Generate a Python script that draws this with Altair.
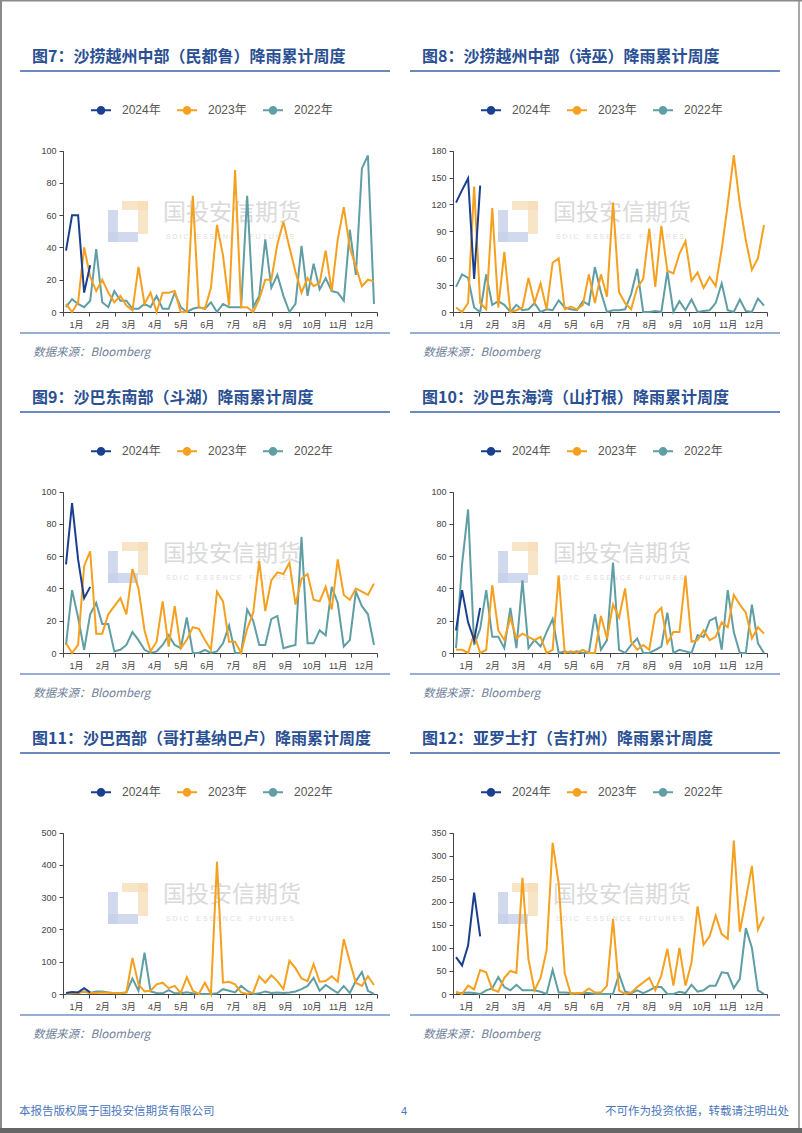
import altair as alt
import pandas as pd

W, H = 802, 1133
SERIES = ["2024年", "2023年", "2022年"]
COLORS = ["#1B3F8F", "#F5A01E", "#5E9EA4"]
MONTH_TICKS = list(range(13))

TITLES = [
    "图7：沙捞越州中部（民都鲁）降雨累计周度",
    "图8：沙捞越州中部（诗巫）降雨累计周度",
    "图9：沙巴东南部（斗湖）降雨累计周度",
    "图10：沙巴东海湾（山打根）降雨累计周度",
    "图11：沙巴西部（哥打基纳巴卢）降雨累计周度",
    "图12：亚罗士打（吉打州）降雨累计周度",
]
SOURCE = "数据来源：Bloomberg"
FOOT_L = "本报告版权属于国投安信期货有限公司"
FOOT_C = "4"
FOOT_R = "不可作为投资依据，转载请注明出处"
WM_CN = "国投安信期货"
NB = "\u00a0"
WM_EN = (NB * 2 + NB * 2).join(NB.join(w) for w in ["SDIC", "ESSENCE", "FUTURES"])

# ---- weekly rainfall values ----
c7_24 = [38, 60, 60, 12, 29]
c7_23 = [5, 0, 6, 40, 22, 13, 20, 12, 6, 10, 4, 1, 28, 5, 12, 0, 12, 12, 13, 0,
         0, 72, 3, 2, 15, 54, 35, 4, 88, 3, 3, 0, 8, 20, 20, 42, 56, 40, 25, 12,
         21, 16, 18, 38, 13, 45, 65, 40, 28, 16, 20, 19]
c7_22 = [3, 8, 5, 3, 7, 39, 6, 3, 13, 7, 7, 2, 2, 5, 3, 10, 2, 2, 12, 3,
         0, 2, 3, 2, 6, 0, 5, 3, 3, 3, 72, 3, 10, 45, 15, 23, 10, 0, 5, 41,
         10, 30, 14, 21, 13, 12, 7, 51, 23, 89, 97, 5]

c8_24 = [122, 136, 149, 37, 141]
c8_23 = [5, 0, 10, 140, 10, 3, 116, 5, 67, 0, 2, 5, 38, 10, 32, 3, 55, 60, 3, 6,
         3, 8, 42, 10, 42, 17, 122, 22, 10, 3, 27, 37, 93, 28, 96, 46, 43, 65, 79, 35,
         44, 27, 39, 29, 70, 120, 175, 120, 80, 47, 60, 97]
c8_22 = [28, 42, 38, 5, 0, 42, 8, 12, 8, 0, 8, 2, 3, 10, 0, 3, 2, 13, 5, 3,
         2, 12, 8, 50, 22, 0, 2, 2, 3, 20, 48, 0, 0, 1, 0, 45, 0, 12, 2, 14,
         0, 1, 2, 10, 32, 2, 0, 14, 1, 0, 15, 7]

c9_24 = [55, 93, 58, 34, 41]
c9_23 = [6, 0, 5, 54, 63, 12, 12, 24, 29, 34, 24, 52, 40, 14, 1, 7, 32, 4, 29, 3,
         8, 16, 15, 8, 2, 38, 32, 7, 7, 0, 15, 25, 57, 26, 45, 50, 49, 56, 30, 46,
         49, 33, 32, 41, 27, 58, 36, 33, 40, 38, 36, 43]
c9_22 = [5, 39, 22, 2, 24, 31, 18, 18, 1, 2, 5, 13, 8, 2, 0, 1, 5, 11, 5, 3,
         22, 0, 0, 2, 0, 1, 6, 17, 0, 0, 27, 20, 5, 5, 21, 23, 3, 4, 5, 72,
         6, 6, 14, 11, 41, 31, 4, 8, 38, 29, 24, 5]

c10_24 = [14, 39, 19, 8, 28]
c10_23 = [2, 2, 0, 12, 0, 2, 42, 14, 8, 22, 9, 12, 10, 8, 10, 0, 2, 48, 0, 1,
          0, 2, 0, 0, 23, 9, 30, 22, 40, 7, 2, 5, 2, 24, 28, 6, 13, 13, 48, 7,
          8, 14, 8, 10, 19, 16, 36, 30, 25, 9, 16, 12]
c10_22 = [3, 55, 89, 5, 15, 39, 10, 10, 3, 28, 3, 45, 3, 8, 4, 13, 21, 0, 1, 0,
          1, 0, 0, 24, 2, 8, 56, 2, 0, 5, 9, 0, 0, 2, 4, 25, 0, 2, 1, 0,
          11, 10, 20, 22, 2, 39, 13, 0, 0, 30, 6, 0]

c11_24 = [3, 6, 5, 18, 5]
c11_23 = [2, 3, 2, 8, 3, 3, 5, 4, 3, 2, 5, 112, 30, 8, 10, 30, 35, 18, 25, 3,
          52, 10, 0, 35, 0, 410, 35, 38, 30, 5, 0, 5, 55, 35, 58, 40, 15, 103, 80, 48,
          40, 93, 38, 40, 55, 38, 170, 100, 35, 25, 55, 28]
c11_22 = [0, 2, 5, 8, 3, 8, 8, 5, 2, 3, 5, 48, 10, 128, 8, 3, 2, 12, 2, 2,
          5, 2, 0, 0, 0, 2, 15, 10, 5, 25, 10, 0, 2, 8, 3, 5, 3, 5, 8, 15,
          25, 50, 10, 28, 15, 3, 25, 3, 40, 68, 10, 0]

c12_24 = [80, 62, 105, 220, 125]
c12_23 = [5, 0, 18, 10, 52, 47, 10, 5, 35, 50, 46, 252, 75, 8, 35, 95, 328, 240, 45, 0,
          2, 2, 12, 3, 3, 18, 163, 8, 0, 3, 15, 25, 35, 8, 40, 98, 18, 100, 18, 68,
          190, 107, 125, 170, 130, 120, 333, 135, 205, 278, 140, 168]
c12_22 = [2, 2, 3, 2, 0, 8, 12, 37, 15, 8, 20, 8, 8, 8, 5, 0, 52, 3, 3, 2,
          0, 2, 2, 0, 0, 0, 0, 43, 5, 2, 8, 2, 8, 15, 15, 0, 0, 5, 2, 20,
          5, 8, 18, 18, 47, 45, 13, 33, 143, 100, 8, 0]

Y_MAX = [100, 180, 100, 100, 500, 350]
Y_STEP = [20, 30, 20, 20, 100, 50]
DATA = [(c7_24, c7_23, c7_22), (c8_24, c8_23, c8_22), (c9_24, c9_23, c9_22),
        (c10_24, c10_23, c10_22), (c11_24, c11_23, c11_22), (c12_24, c12_23, c12_22)]

CJK = "Noto Sans CJK SC"
LAT = "Liberation Sans, Noto Sans CJK SC"
ROW_DY = 341
COL_DX = 390

SYMBOL = ("M-1,0L1,0"
          "M-0.33,0A0.33,0.33,0,1,1,0.33,0A0.33,0.33,0,1,1,-0.33,0"
          "M-0.22,0A0.22,0.22,0,1,1,0.22,0A0.22,0.22,0,1,1,-0.22,0"
          "M-0.1,0A0.1,0.1,0,1,1,0.1,0A0.1,0.1,0,1,1,-0.1,0")


def make_df(s24, s23, s22):
    rows = []
    for name, vals in zip(SERIES, [s24, s23, s22]):
        for i, v in enumerate(vals):
            rows.append({"series": name, "week": i + 1, "value": v})
    return pd.DataFrame(rows)


ONE = pd.DataFrame({"k": [0]})


def text(txt, x, y, **kw):
    return alt.Chart(pd.DataFrame({"t": [txt]})).mark_text(**kw).encode(
        x=alt.value(x), y=alt.value(y), text="t:N")


def hrule(x0, x1, y, color, width):
    return alt.Chart(ONE).mark_rule(color=color, strokeWidth=width).encode(
        x=alt.value(x0), x2=alt.value(x1), y=alt.value(y))


def vrule(x, y0, y1, color, width):
    return alt.Chart(ONE).mark_rule(color=color, strokeWidth=width).encode(
        x=alt.value(x), y=alt.value(y0), y2=alt.value(y1))


def box(x0, x1, y0, y1, color, op):
    return alt.Chart(ONE).mark_rect(color=color, opacity=op).encode(
        x=alt.value(x0), x2=alt.value(x1), y=alt.value(y0), y2=alt.value(y1))


def panel(idx):
    c, r = idx % 2, idx // 2
    dx, dy = COL_DX * c, ROW_DY * r
    x0, x1 = 63 + dx, 377 + dx
    ytop, ybot = 150.7 + dy, 312 + dy
    s24, s23, s22 = DATA[idx]
    df = make_df(s24, s23, s22)
    base = alt.Chart(df).transform_calculate(m="(datum.week - 0.5) * 12 / 52")
    xenc = alt.X("m:Q",
                 scale=alt.Scale(domain=[0, 12], range=[x0, x1], nice=False, zero=False),
                 axis=alt.Axis(values=MONTH_TICKS, orient="bottom", offset=ybot - H,
                               title=None, grid=False, labelFlush=False,
                               labelExpr="datum.value < 12 ? (datum.value + 1) + '月' : ''",
                               labelOffset=13, labelFontSize=9, labelFont=LAT,
                               labelColor="#444", tickSize=4, tickColor="#444",
                               domainColor="#444", labelPadding=4))
    yenc = alt.Y("value:Q",
                 scale=alt.Scale(domain=[0, Y_MAX[idx]], range=[ybot, ytop], nice=False),
                 axis=alt.Axis(values=list(range(0, Y_MAX[idx] + 1, Y_STEP[idx])),
                               orient="left", offset=-x0, title=None, grid=False,
                               labelFlush=False, labelFontSize=9, labelFont=LAT,
                               labelColor="#444", tickSize=4, tickColor="#444",
                               domainColor="#444", labelPadding=3))
    color = alt.Color("series:N",
                      scale=alt.Scale(domain=SERIES, range=COLORS),
                      legend=alt.Legend(orient="none", legendX=90 + dx, legendY=99 + dy,
                                        direction="horizontal", title=None,
                                        symbolType=SYMBOL, symbolSize=400,
                                        symbolStrokeWidth=2, labelFontSize=12,
                                        labelFont=LAT, labelColor="#555",
                                        labelOffset=10, columnPadding=12, padding=0))
    layers = []
    for s in ["2022年", "2023年", "2024年"]:
        layers.append(base.transform_filter(alt.datum.series == s)
                      .mark_line(strokeWidth=2)
                      .encode(x=xenc, y=yenc, color=color))
    return alt.layer(*layers)


deco = []
# page frame
deco.append(vrule(1, 0, H, "#8a8a8a", 2))
deco.append(vrule(799, 0, H, "#8a8a8a", 1.5))
deco.append(hrule(0, W, 0.75, "#8a8a8a", 1.5))
deco.append(hrule(0, W, 1130.5, "#666666", 5))

for idx in range(6):
    c, r = idx % 2, idx // 2
    dx, dy = COL_DX * c, ROW_DY * r
    # watermark
    deco.append(box(108 + dx, 118 + dx, 210 + dy, 242 + dy, "#C5D0EA", 0.8))
    deco.append(box(108 + dx, 138 + dx, 232 + dy, 242 + dy, "#C5D0EA", 0.8))
    deco.append(box(122 + dx, 148 + dx, 201 + dy, 210 + dy, "#F6DDB8", 0.8))
    deco.append(box(138 + dx, 148 + dx, 201 + dy, 234 + dy, "#F6DDB8", 0.8))
    deco.append(text(WM_CN, 163 + dx, 213 + dy, font=CJK, fontSize=23, color="#DADADA",
                     align="left", baseline="middle"))
    deco.append(text(WM_EN, 166 + dx, 237 + dy, font=LAT, fontSize=7, color="#E0E0E0",
                     align="left", baseline="middle"))
    # title, rules, source
    deco.append(text(TITLES[idx], 32 + dx, 57 + dy, font=CJK, fontSize=16,
                     fontWeight="bold", color="#2A4F93", align="left", baseline="middle"))
    deco.append(hrule(20 + dx, 390 + dx, 71 + dy, "#3C63A8", 1.5))
    deco.append(hrule(20 + dx, 390 + dx, 333 + dy, "#7393C4", 1.5))
    deco.append(text(SOURCE, 33 + dx, 353 + dy, font=CJK, fontSize=11.5,
                     fontStyle="italic", color="#6F7F99", align="left", baseline="middle"))

deco.append(text(FOOT_L, 19, 1112, font=CJK, fontSize=11.5, color="#4A76BD",
                 align="left", baseline="middle"))
deco.append(text(FOOT_C, 404, 1112, font=LAT, fontSize=11, color="#4A76BD",
                 align="center", baseline="middle"))
deco.append(text(FOOT_R, 789, 1112, font=CJK, fontSize=11.5, color="#4A76BD",
                 align="right", baseline="middle"))

chart = alt.layer(*deco, *[panel(i) for i in range(6)]).resolve_scale(
    x="independent", y="independent", color="independent"
).properties(
    width=W, height=H, padding=0, autosize=alt.AutoSizeParams(type="none"),
    background="white"
).configure_view(stroke=None)

chart.save("out.html", embed_options={"renderer": "svg", "actions": False})
